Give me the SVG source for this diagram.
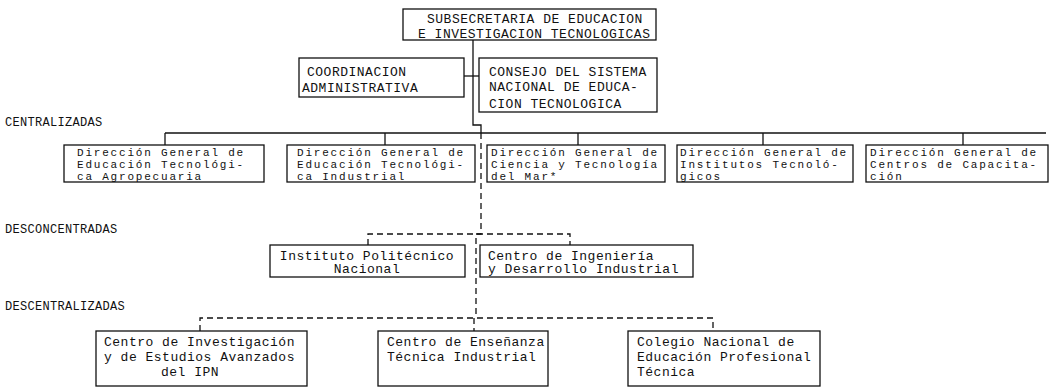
<svg xmlns="http://www.w3.org/2000/svg" width="1052" height="390" viewBox="0 0 1052 390">
<style>
.bg{fill:#ffffff}
.box{fill:none;stroke:#111;stroke-width:1.3}
.t{font-family:"Liberation Mono","DejaVu Sans Mono",monospace;font-size:13px;letter-spacing:0.5px;fill:#111}
.s{font-family:"Liberation Mono","DejaVu Sans Mono",monospace;font-size:11px;letter-spacing:1.8px;fill:#111}
.lbl{font-family:"Liberation Mono","DejaVu Sans Mono",monospace;font-size:12px;letter-spacing:0.3px;fill:#111}
.c{fill:none;stroke:#111;stroke-width:1.3}
.d{fill:none;stroke:#111;stroke-width:1.3;stroke-dasharray:6 4}
</style>
<rect class="bg" x="0" y="0" width="1052" height="390"/>
<g id="connectors">
<polyline class="c" points="473,40 473,125 481,125 481,133"/>
<line class="c" x1="464" y1="76" x2="479" y2="76"/>
<line class="c" x1="165" y1="133" x2="1046" y2="133"/>
<line class="c" x1="165" y1="133" x2="165" y2="145"/>
<line class="c" x1="385" y1="133" x2="385" y2="145"/>
<line class="c" x1="578" y1="133" x2="578" y2="145"/>
<line class="c" x1="763" y1="133" x2="763" y2="145"/>
<line class="c" x1="963" y1="133" x2="963" y2="145"/>
<polyline class="d" points="481,133 481,234 476,234 476,318"/>
<polyline class="d" points="368,245 368,234 570,234 570,245"/>
<polyline class="d" points="200,331 200,318 713,318 713,331"/>
<line class="d" x1="474" y1="318" x2="474" y2="331"/>
</g>
<g id="subsecretaria">
<rect class="box" x="403" y="9" width="253" height="31"/>
<text class="t" x="427" y="23">SUBSECRETARIA DE EDUCACION</text>
<text class="t" x="418" y="38">E INVESTIGACION TECNOLOGICAS</text>
</g>
<g id="coordinacion">
<rect class="box" x="299" y="58" width="165" height="39"/>
<text class="t" x="307" y="76">COORDINACION</text>
<text class="t" x="302" y="92">ADMINISTRATIVA</text>
</g>
<g id="consejo">
<rect class="box" x="479" y="58" width="178" height="54"/>
<text class="t" x="489" y="76">CONSEJO DEL SISTEMA</text>
<text class="t" x="489" y="91">NACIONAL DE EDUCA-</text>
<text class="t" x="489" y="108">CION TECNOLOGICA</text>
</g>
<text class="lbl" x="5" y="126">CENTRALIZADAS</text>
<g id="dg-agropecuaria">
<rect class="box" x="64" y="145" width="200" height="37"/>
<text class="s" x="77" y="156">Dirección General de</text>
<text class="s" x="77" y="168">Educación Tecnológi-</text>
<text class="s" x="77" y="180">ca Agropecuaria</text>
</g>
<g id="dg-industrial">
<rect class="box" x="287" y="145" width="188" height="37"/>
<text class="s" x="297" y="156">Dirección General de</text>
<text class="s" x="297" y="168">Educación Tecnológi-</text>
<text class="s" x="297" y="180">ca Industrial</text>
</g>
<g id="dg-mar">
<rect class="box" x="487" y="145" width="178" height="37"/>
<text class="s" x="491" y="156">Dirección General de</text>
<text class="s" x="491" y="168">Ciencia y Tecnología</text>
<text class="s" x="491" y="180">del Mar*</text>
</g>
<g id="dg-institutos">
<rect class="box" x="677" y="145" width="176" height="37"/>
<text class="s" x="680" y="156">Dirección General de</text>
<text class="s" x="680" y="168">Institutos Tecnoló-</text>
<text class="s" x="680" y="180">gicos</text>
</g>
<g id="dg-capacitacion">
<rect class="box" x="866" y="145" width="182" height="37"/>
<text class="s" x="870" y="156">Dirección General de</text>
<text class="s" x="870" y="168">Centros de Capacita-</text>
<text class="s" x="870" y="180">ción</text>
</g>
<text class="lbl" x="5" y="233">DESCONCENTRADAS</text>
<g id="ipn">
<rect class="box" x="270" y="245" width="195" height="32"/>
<text class="t" x="367" y="260" text-anchor="middle">Instituto Politécnico</text>
<text class="t" x="367" y="273" text-anchor="middle">Nacional</text>
</g>
<g id="cidi">
<rect class="box" x="480" y="245" width="213" height="32"/>
<text class="t" x="488" y="260">Centro de Ingeniería</text>
<text class="t" x="488" y="273">y Desarrollo Industrial</text>
</g>
<text class="lbl" x="5" y="310">DESCENTRALIZADAS</text>
<g id="cinvestav">
<rect class="box" x="96" y="331" width="211" height="55"/>
<text class="t" x="104" y="346">Centro de Investigación</text>
<text class="t" x="104" y="361">y de Estudios Avanzados</text>
<text class="t" x="190" y="376" text-anchor="middle">del IPN</text>
</g>
<g id="ceti">
<rect class="box" x="378" y="331" width="170" height="55"/>
<text class="t" x="387" y="346">Centro de Enseñanza</text>
<text class="t" x="387" y="361">Técnica Industrial</text>
</g>
<g id="conalep">
<rect class="box" x="628" y="331" width="192" height="55"/>
<text class="t" x="637" y="346">Colegio Nacional de</text>
<text class="t" x="637" y="361">Educación Profesional</text>
<text class="t" x="637" y="376">Técnica</text>
</g>
</svg>
